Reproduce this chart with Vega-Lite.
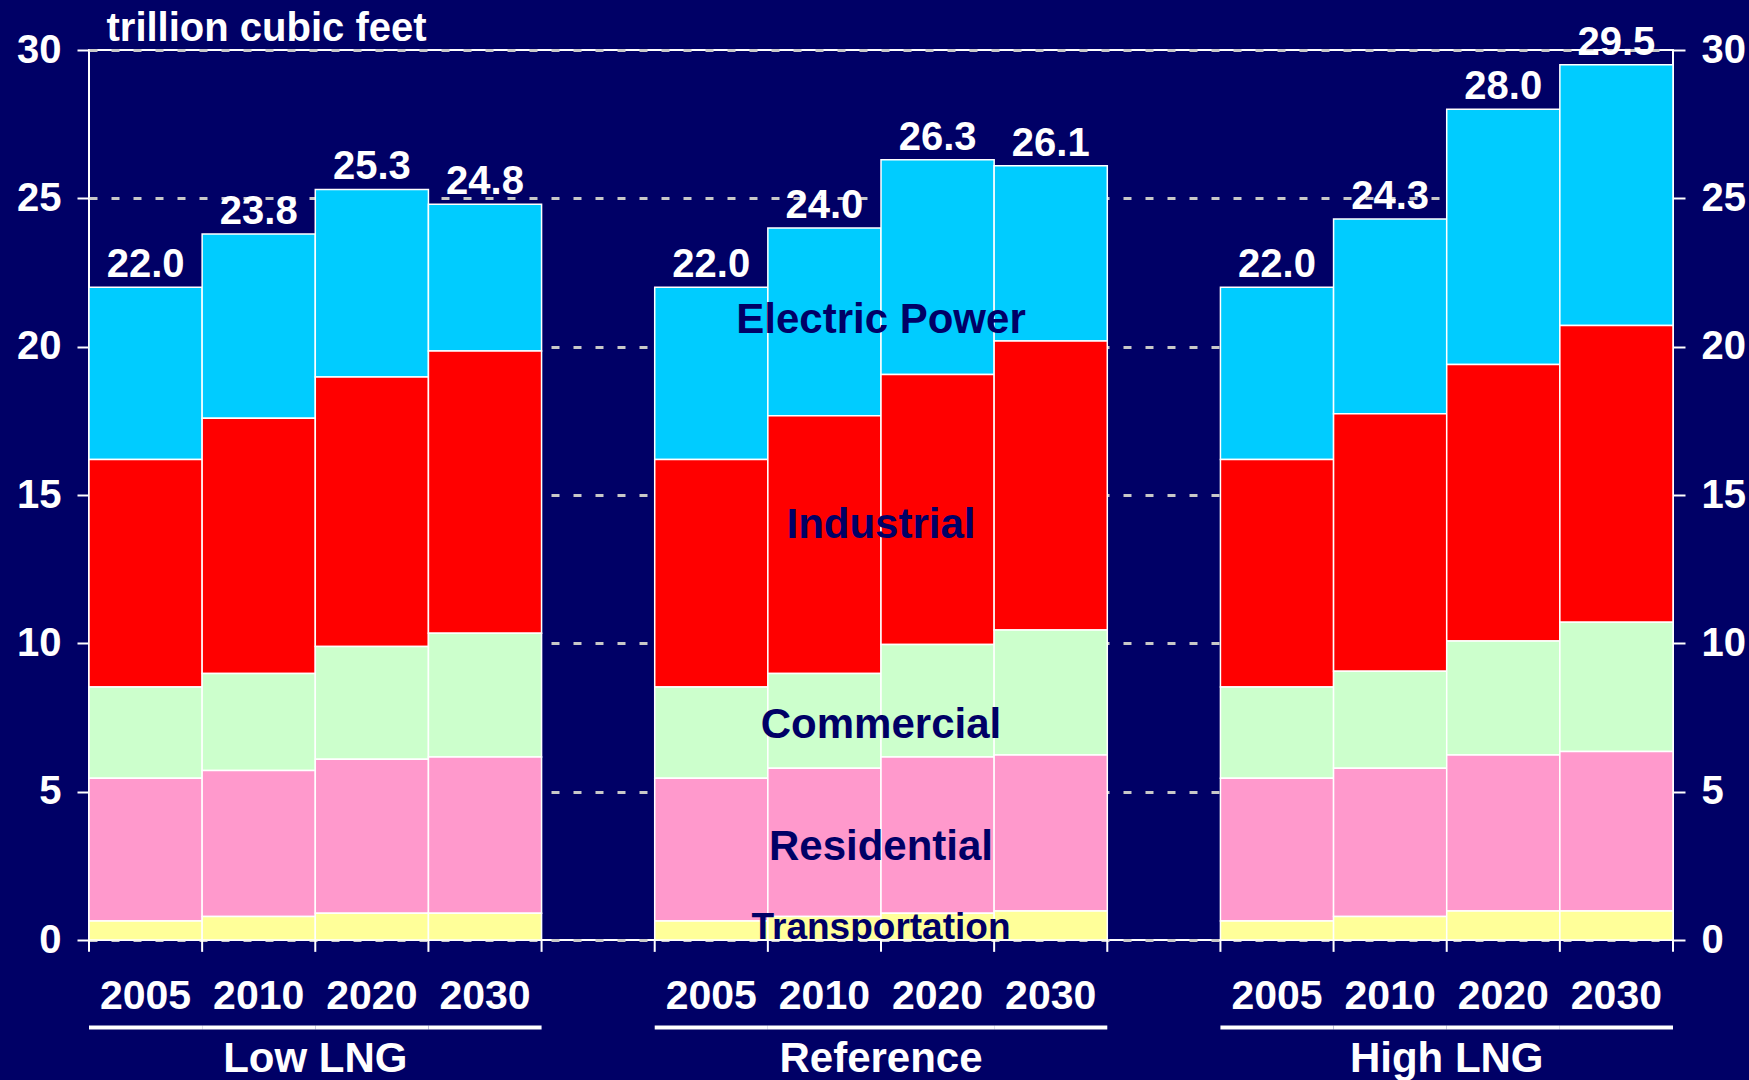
{
  "$schema": "https://vega.github.io/schema/vega-lite/v6.json",
  "width": 1584,
  "height": 890,
  "autosize": {"type": "none"},
  "padding": {"left": 89, "top": 50, "right": 76, "bottom": 140},
  "background": "#000066",
  "config": {
    "view": {"stroke": "#FFFFFF", "strokeWidth": 2},
    "font": "Liberation Sans"
  },
  "datasets": {
    "bars": [
      {"group": "Low LNG", "year": "2005", "key": "Low LNG|2005", "Transportation": 0.64, "Residential": 4.81, "Commercial": 3.08, "Industrial": 7.67, "Electric Power": 5.80, "total": 22.0},
      {"group": "Low LNG", "year": "2010", "key": "Low LNG|2010", "Transportation": 0.79, "Residential": 4.92, "Commercial": 3.27, "Industrial": 8.61, "Electric Power": 6.21, "total": 23.8},
      {"group": "Low LNG", "year": "2020", "key": "Low LNG|2020", "Transportation": 0.90, "Residential": 5.19, "Commercial": 3.80, "Industrial": 9.09, "Electric Power": 6.32, "total": 25.3},
      {"group": "Low LNG", "year": "2030", "key": "Low LNG|2030", "Transportation": 0.90, "Residential": 5.27, "Commercial": 4.17, "Industrial": 9.51, "Electric Power": 4.95, "total": 24.8},
      {"group": "Reference", "year": "2005", "key": "Reference|2005", "Transportation": 0.64, "Residential": 4.81, "Commercial": 3.08, "Industrial": 7.67, "Electric Power": 5.80, "total": 22.0},
      {"group": "Reference", "year": "2010", "key": "Reference|2010", "Transportation": 0.79, "Residential": 5.00, "Commercial": 3.19, "Industrial": 8.69, "Electric Power": 6.33, "total": 24.0},
      {"group": "Reference", "year": "2020", "key": "Reference|2020", "Transportation": 0.90, "Residential": 5.27, "Commercial": 3.79, "Industrial": 9.10, "Electric Power": 7.24, "total": 26.3},
      {"group": "Reference", "year": "2030", "key": "Reference|2030", "Transportation": 0.98, "Residential": 5.26, "Commercial": 4.21, "Industrial": 9.74, "Electric Power": 5.91, "total": 26.1},
      {"group": "High LNG", "year": "2005", "key": "High LNG|2005", "Transportation": 0.64, "Residential": 4.81, "Commercial": 3.08, "Industrial": 7.67, "Electric Power": 5.80, "total": 22.0},
      {"group": "High LNG", "year": "2010", "key": "High LNG|2010", "Transportation": 0.79, "Residential": 5.00, "Commercial": 3.27, "Industrial": 8.68, "Electric Power": 6.56, "total": 24.3},
      {"group": "High LNG", "year": "2020", "key": "High LNG|2020", "Transportation": 0.98, "Residential": 5.26, "Commercial": 3.84, "Industrial": 9.32, "Electric Power": 8.60, "total": 28.0},
      {"group": "High LNG", "year": "2030", "key": "High LNG|2030", "Transportation": 0.98, "Residential": 5.37, "Commercial": 4.36, "Industrial": 10.00, "Electric Power": 8.79, "total": 29.5}
    ],
    "labels": [
      {"sector": "Electric Power", "rank": 4, "at": 20.9},
      {"sector": "Industrial", "rank": 3, "at": 14.0},
      {"sector": "Commercial", "rank": 2, "at": 7.25},
      {"sector": "Residential", "rank": 1, "at": 3.15},
      {"sector": "Transportation", "rank": 0, "at": 0.4}
    ]
  },
  "layer": [
    {
      "data": {"name": "bars"},
      "transform": [
        {"fold": ["Electric Power", "Industrial", "Commercial", "Residential", "Transportation"], "as": ["sector", "value"]},
        {"lookup": "sector", "from": {"data": {"name": "labels"}, "key": "sector", "fields": ["rank"]}}
      ],
      "mark": {"type": "bar", "stroke": "#FFFFFF", "strokeWidth": 1.5},
      "encoding": {
        "x": {
          "field": "key", "type": "nominal",
          "scale": {
            "domain": ["Low LNG|2005", "Low LNG|2010", "Low LNG|2020", "Low LNG|2030", " ",
                       "Reference|2005", "Reference|2010", "Reference|2020", "Reference|2030", "  ",
                       "High LNG|2005", "High LNG|2010", "High LNG|2020", "High LNG|2030"],
            "paddingInner": 0, "paddingOuter": 0
          },
          "axis": null
        },
        "y": {
          "field": "value", "type": "quantitative", "stack": "zero",
          "scale": {"domain": [0, 30], "nice": false},
          "axis": {
            "title": "trillion cubic feet", "titleAngle": 0, "titleAlign": "left", "titleBaseline": "alphabetic",
            "titleX": 17, "titleY": -10, "titleFontSize": 40, "titleFont": "Liberation Sans",
            "titleFontWeight": "bold", "titleColor": "#FFFFFF",
            "values": [0, 5, 10, 15, 20, 25, 30],
            "labelFontSize": 40, "labelFont": "Liberation Sans", "labelFontWeight": "bold", "labelColor": "#FFFFFF",
            "labelPadding": 16, "labelFlush": false, "labelOverlap": false,
            "tickSize": 12, "tickColor": "#FFFFFF", "tickWidth": 2, "domain": false,
            "grid": true, "gridColor": "#C8C8C8", "gridDash": [8, 14], "gridWidth": 3
          }
        },
        "color": {
          "field": "sector", "type": "nominal",
          "scale": {
            "domain": ["Electric Power", "Industrial", "Commercial", "Residential", "Transportation"],
            "range": ["#00CCFF", "#FF0000", "#CCFFCC", "#FF99CC", "#FFFF99"]
          },
          "legend": null
        },
        "order": {"field": "rank", "type": "quantitative", "sort": "ascending"}
      }
    },
    {
      "data": {"name": "bars"},
      "mark": {"type": "text", "fontSize": 40, "fontWeight": "bold", "font": "Liberation Sans", "color": "#FFFFFF", "baseline": "alphabetic", "dy": -10},
      "encoding": {
        "x": {"field": "key", "type": "nominal", "axis": null},
        "y": {
          "field": "total", "type": "quantitative",
          "axis": {
            "orient": "right", "title": null, "values": [0, 5, 10, 15, 20, 25, 30],
            "labelFontSize": 40, "labelFont": "Liberation Sans", "labelFontWeight": "bold", "labelColor": "#FFFFFF",
            "labelPadding": 16, "labelFlush": false, "labelOverlap": false,
            "tickSize": 12, "tickColor": "#FFFFFF", "tickWidth": 2, "domain": false, "grid": false
          }
        },
        "text": {"field": "total", "type": "quantitative", "format": ".1f"}
      }
    },
    {
      "data": {"name": "bars"},
      "mark": {"type": "text", "fontSize": 41, "fontWeight": "bold", "font": "Liberation Sans", "color": "#FFFFFF", "baseline": "middle"},
      "encoding": {
        "x": {"field": "key", "type": "nominal", "axis": null},
        "y": {"datum": -1.92, "axis": null},
        "text": {"field": "year"}
      }
    },
    {
      "data": {"name": "bars"},
      "mark": {"type": "rule", "color": "#FFFFFF", "strokeWidth": 2},
      "encoding": {
        "x": {"field": "key", "type": "nominal", "bandPosition": 0, "axis": null},
        "y": {"datum": 0, "axis": null},
        "y2": {"datum": -0.4}
      }
    },
    {
      "data": {"name": "bars"},
      "transform": [{"filter": "datum.year == '2030'"}],
      "mark": {"type": "rule", "color": "#FFFFFF", "strokeWidth": 2},
      "encoding": {
        "x": {"field": "key", "type": "nominal", "bandPosition": 1, "axis": null},
        "y": {"datum": 0, "axis": null},
        "y2": {"datum": -0.4}
      }
    },
    {
      "data": {"name": "bars"},
      "mark": {"type": "bar", "color": "#FFFFFF"},
      "encoding": {
        "x": {"field": "key", "type": "nominal", "axis": null},
        "y": {"datum": -2.88, "axis": null},
        "y2": {"datum": -3.02}
      }
    },
    {
      "data": {"name": "bars"},
      "transform": [{"filter": "datum.year == '2020'"}],
      "mark": {"type": "text", "fontSize": 42, "fontWeight": "bold", "font": "Liberation Sans", "color": "#FFFFFF", "baseline": "middle"},
      "encoding": {
        "x": {"field": "key", "type": "nominal", "bandPosition": 0, "axis": null},
        "y": {"datum": -4, "axis": null},
        "text": {"field": "group"}
      }
    },
    {
      "data": {"name": "labels"},
      "transform": [{"filter": "datum.sector != 'Transportation'"}],
      "mark": {"type": "text", "fontSize": 42, "fontWeight": "bold", "font": "Liberation Sans", "color": "#000066", "baseline": "middle"},
      "encoding": {
        "x": {"datum": "Reference|2020", "bandPosition": 0, "axis": null},
        "y": {"field": "at", "type": "quantitative", "axis": null},
        "text": {"field": "sector"}
      }
    },
    {
      "data": {"name": "labels"},
      "transform": [{"filter": "datum.sector == 'Transportation'"}],
      "mark": {"type": "text", "fontSize": 37, "fontWeight": "bold", "font": "Liberation Sans", "color": "#000066", "baseline": "middle"},
      "encoding": {
        "x": {"datum": "Reference|2020", "bandPosition": 0, "axis": null},
        "y": {"field": "at", "type": "quantitative", "axis": null},
        "text": {"field": "sector"}
      }
    }
  ],
  "resolve": {"axis": {"y": "independent"}}
}
